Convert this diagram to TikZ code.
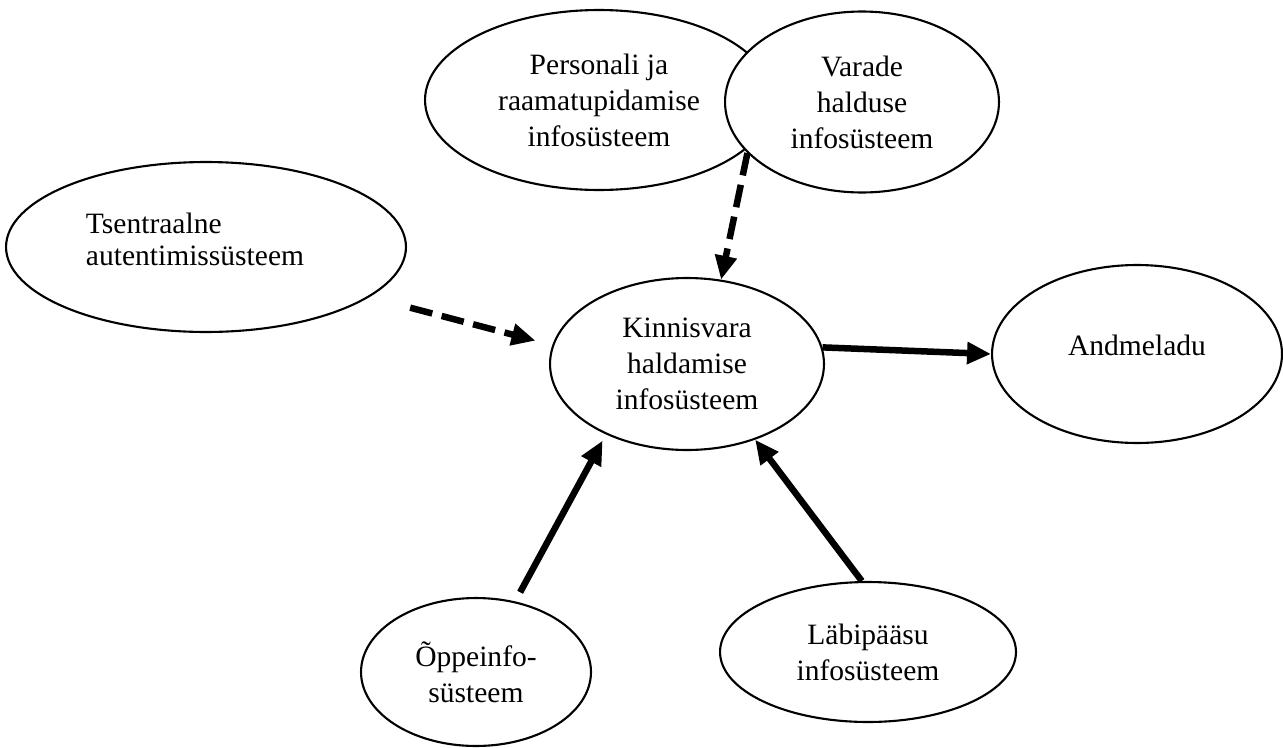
\documentclass[tikz,border=0pt]{standalone}
\usepackage{fontspec}
\setmainfont{Liberation Serif}
\usepackage{tikz}
\usetikzlibrary{arrows.meta,shapes.geometric}

\begin{document}
\begin{tikzpicture}[x=0.02cm,y=-0.02cm,
  sys/.style={ellipse,draw,fill=white,line width=1.2pt,inner sep=0pt,align=center,
    font=\fontsize{16.8pt}{20.5pt}\selectfont},
  txt/.style={inner sep=0pt,font=\fontsize{16.8pt}{18.2pt}\selectfont},
  flow/.style={-{Triangle[length=13.6pt,width=12pt]},line width=3.7pt},
  dflow/.style={flow,dash pattern=on 13pt off 5.5pt}]
  \useasboundingbox (0,0) rectangle (1283,747);
  % systems
  \node[sys,minimum width=6.96cm,minimum height=3.6cm] (personal) at (599,100)
    {Personali ja\\raamatupidamise\\infosüsteem};
  \node[sys,minimum width=5.48cm,minimum height=3.62cm] (varade) at (862,102)
    {Varade\\halduse\\infosüsteem};
  \node[sys,minimum width=8cm,minimum height=3.4cm] (tsentr) at (206,247) {};
  \node[txt,align=left] (tsentr-txt) at (195,239) {Tsentraalne\\autentimissüsteem};
  \node[sys,minimum width=5.48cm,minimum height=3.44cm] (kinnis) at (687,364)
    {Kinnisvara\\haldamise\\infosüsteem};
  \node[sys,minimum width=5.8cm,minimum height=3.56cm] (andme) at (1137,354) {};
  \node[txt] (andme-txt) at (1137,345) {Andmeladu};
  \node[sys,minimum width=4.6cm,minimum height=2.96cm] (oppe) at (476,672)
    {Õppeinfo-\\süsteem};
  \node[sys,minimum width=5.92cm,minimum height=2.8cm] (laebi) at (868,652)
    {Läbipääsu\\infosüsteem};
  % connections
  \draw[dflow] (varade.204) -- (kinnis.68);
  \draw[dflow,shorten <=23.9pt,shorten >=9.9pt] (tsentr.-17) -- (kinnis.172);
  \draw[flow] (kinnis.7) -- (andme.180);
  \draw[flow,shorten <=5.9pt,shorten >=4pt] (oppe.61) -- (kinnis.221);
  \draw[flow] (laebi.95) -- (kinnis.-48);
\end{tikzpicture}
\end{document}
